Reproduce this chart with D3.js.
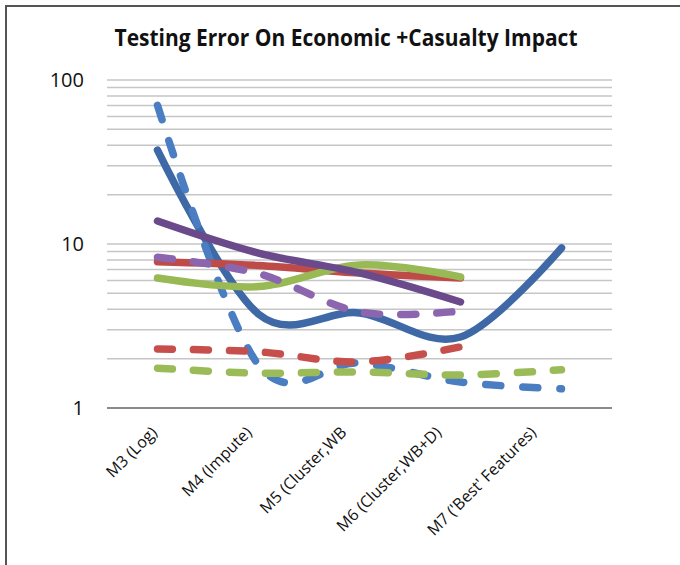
<!DOCTYPE html>
<html>
<head>
<meta charset="utf-8">
<script src="https://cdn.jsdelivr.net/npm/d3@7"></script>
<style>
  body { margin: 0; background: #fff; }
  svg { display: block; }
</style>
</head>
<body>
<script>
// data
const categories = ['M3 (Log)', 'M4 (Impute)', 'M5 (Cluster,WB', 'M6 (Cluster,WB+D)', "M7 ('Best' Features)"];
const blueSolid = [37.4, 3.74, 3.8, 2.71, 9.46];
const blueDashed = [70, 1.83, 1.88, 1.44, 1.31];
const redSolid = [7.8, 7.4, 6.65, 6.2];
const redDashed = [2.29, 2.2, 1.91, 2.36];
const greenSolid = [6.2, 5.5, 7.45, 6.3];
const greenDashed = [1.75, 1.63, 1.66, 1.59, 1.71];
const purpleDashed = [8.3, 6.6, 3.85, 3.9];
const purpleSolid = [13.8, 8.8, 6.66, 4.43];
const yTicks = [1, 10, 100];

const series = [
  { values: blueSolid, color: '#3e69a6', dash: null },
  { values: blueDashed, color: '#4a7dc2', dash: '15,22' },
  { values: redSolid, color: '#be4b48', dash: null },
  { values: redDashed, color: '#c64f4c', dash: '15,21' },
  { values: greenSolid, color: '#98b954', dash: null },
  { values: greenDashed, color: '#9bbb59', dash: '15,21' },
  { values: purpleDashed, color: '#8b66ae', dash: '15,21' },
  { values: purpleSolid, color: '#6b4a8c', dash: null }
];

const width = 680, height = 565;
const svg = d3.select('body').append('svg')
  .attr('width', width)
  .attr('height', height);

// frame (top and left edges only)
svg.append('path')
  .attr('d', 'M6,565 V6 H680')
  .attr('fill', 'none')
  .attr('stroke', '#555')
  .attr('stroke-width', 2);

svg.append('text')
  .attr('x', 346)
  .attr('y', 46)
  .attr('text-anchor', 'middle')
  .attr('font-family', '"Liberation Sans Narrow", "Open Sans", sans-serif')
  .attr('font-weight', 'bold')
  .attr('font-size', 23)
  .attr('textLength', 463)
  .attr('lengthAdjust', 'spacingAndGlyphs')
  .attr('fill', '#111')
  .text('Testing Error On Economic +Casualty Impact');

const x = d3.scalePoint()
  .domain(categories)
  .range([107, 612])
  .padding(0.5);

const y = d3.scaleLog()
  .domain([1, 100])
  .range([408, 80]);

// gridlines at every log step
const gridVals = y.ticks().filter(v => v > 1);
svg.append('g')
  .selectAll('line')
  .data(gridVals)
  .enter()
  .append('line')
  .attr('x1', 107)
  .attr('x2', 612)
  .attr('y1', d => y(d))
  .attr('y2', d => y(d))
  .attr('stroke', '#c6c6c6')
  .attr('stroke-width', 1.5);

// y axis labels
const yAxis = d3.axisLeft(y)
  .tickValues(yTicks)
  .tickFormat(d3.format('d'))
  .tickSize(0)
  .tickPadding(0);

const gy = svg.append('g')
  .attr('transform', 'translate(84,0)')
  .call(yAxis);
gy.select('.domain').remove();
gy.selectAll('text')
  .attr('font-family', '"Open Sans", sans-serif')
  .attr('font-size', 20)
  .attr('fill', '#111');

// x axis line
const xAxis = d3.axisBottom(x).tickSize(0).tickFormat('');
const gx = svg.append('g')
  .attr('transform', `translate(0, ${y(1)})`)
  .call(xAxis);
gx.select('.domain')
  .attr('d', 'M107,0H612')
  .attr('stroke', '#8a8a8a')
  .attr('stroke-width', 2);

svg.append('g')
  .selectAll('text')
  .data(categories)
  .enter()
  .append('text')
  .attr('transform', (d, i) => `translate(${x(d) - 8 - 6.25 * i}, 425) rotate(-45)`)
  .attr('dy', '0.75em')
  .attr('text-anchor', 'end')
  .attr('font-family', '"Open Sans", sans-serif')
  .attr('font-size', 16)
  .attr('fill', '#111')
  .text(d => d);

const line = d3.line()
  .x((d, i) => x(categories[i]))
  .y(d => y(d))
  .curve(d3.curveCardinal.tension(0));

svg.append('g')
  .selectAll('path')
  .data(series)
  .enter()
  .append('path')
  .attr('d', d => line(d.values))
  .attr('fill', 'none')
  .attr('stroke', d => d.color)
  .attr('stroke-width', 7.5)
  .attr('stroke-linecap', 'round')
  .attr('stroke-linejoin', 'round')
  .attr('stroke-dasharray', d => d.dash);
</script>
</body>
</html>
